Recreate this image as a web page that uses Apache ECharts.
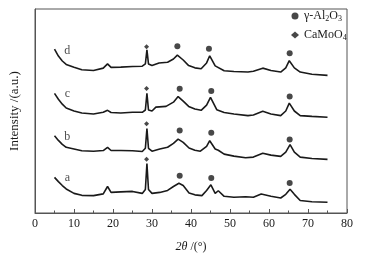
<!DOCTYPE html>
<html>
<head>
<meta charset="utf-8">
<script src="https://cdn.jsdelivr.net/npm/echarts@6/dist/echarts.min.js"></script>
<style>
  html, body { margin: 0; padding: 0; background: #fff; }
  #chart { width: 367px; height: 258px; }
</style>
</head>
<body>
<div id="chart"></div>
<script>
// XRD patterns, intensity in a.u. (curves already stacked)
const curveA = [[5,36.3],[6,32],[7,28],[8,24.5],[10,20],[12,18],[15,17.7],[17.5,19.5],[18.6,27],[19.5,21],[22,21.5],[25,22],[27.5,20],[28.3,24],[28.7,50.3],[29.1,24],[30,20],[32,21],[34,23],[35.5,27],[36.9,30.3],[38,28],[39.5,20.5],[41,18.5],[42.8,17.7],[44,23],[45.1,28.7],[46.2,20],[47,22.7],[48.5,17],[51,16],[54,16.5],[56,16],[58,19.3],[60.5,17],[63,15.3],[64.3,19],[65.4,24.3],[66.5,19],[68,12.7],[71,11.5],[75,11]];
const curveB = [[5,78.7],[6,74],[7,70],[8,67],[10,65.3],[12,63.5],[15,63],[17.5,63.7],[18.6,67],[19.5,63.7],[22,63.7],[25,63.5],[27.5,62.7],[28.3,66],[28.7,86],[29.1,66],[30,63],[32,65.3],[34,67],[35.5,71],[36.7,75.3],[38,72],[39.5,66.3],[41,64],[42.4,63],[44,68],[44.8,73.7],[46.2,65.3],[47,64],[48.5,60],[51,58],[54,56.3],[56,57],[58.4,61],[60.5,59],[63,57.7],[64.3,62],[65.4,69.7],[66.5,62],[68,57],[71,55.5],[75,54.7]];
const curveC = [[5,122],[6,116],[7,111],[8,107],[10,104],[12,102],[15,101],[17.5,102.7],[18.6,104.7],[19.5,102.5],[22,102],[25,102.7],[27.5,102.7],[28.3,105],[28.7,122],[29.1,105],[30,104],[31,108],[33.6,108.7],[35.5,113],[36.7,118.7],[38,114],[39.4,108.7],[41,106],[42.6,104.7],[44,110],[45,118],[46.6,105.3],[48.5,102.5],[51,101],[54.6,99.3],[56,100],[58.4,103.7],[60.5,101],[63,99.3],[64.3,104],[65.2,112],[66.5,104],[68,99.3],[71,98.5],[75,97.7]];
const curveD = [[5,167],[6,160],[7,155],[8,151.5],[10,148.5],[12,146],[15,145.3],[17.5,147.7],[18.6,152],[19.5,148.5],[22,148.7],[25,149.3],[27.5,149.7],[28.3,152],[28.7,166.3],[29.1,152],[30,150.3],[31.8,153],[34,153.7],[35.5,157],[36.5,161],[38,156],[39.4,150.3],[41,148],[42.6,147],[44,153],[44.8,160.3],[46.2,150],[48.5,145],[51,144.3],[54.6,143.7],[56,144.5],[58.4,147.7],[60.5,145.3],[63,143.7],[64.3,148],[65.2,155.3],[66.5,148],[68,143.7],[71,141.5],[75,140.3]];

// phase markers
const aluminaPeaks = [[36.5,170],[44.6,167.5],[65.3,163],[37.1,126.7],[45.2,124.3],[65.3,118.7],[37.1,84],[45.2,81.7],[65.3,75],[37.1,38],[45.2,35.7],[65.3,30.7]];
const camoo4Peaks = [[28.6,169.5],[28.6,127],[28.6,91],[28.6,54.7]];

// sample labels
const sampleNames = ['a', 'b', 'c', 'd'];
const sampleLabelPos = [[8.3,36],[8.3,78],[8.3,122],[8.3,165]];

const xTicks = [0, 10, 20, 30, 40, 50, 60, 70, 80];

const font = '"Liberation Serif", "Times New Roman", serif';
const ink = '#1a1a1a';
const chart = echarts.init(document.getElementById('chart'));

function lineSeries(name, data) {
  return {
    name: name,
    type: 'line',
    data: data,
    symbol: 'none',
    lineStyle: { color: ink, width: 1.6 },
    silent: true
  };
}

const option = {
  animation: false,
  textStyle: { fontFamily: font },
  grid: {
    left: 31, right: 20, top: 9, bottom: 41,
    show: true, borderColor: '#555', borderWidth: 1
  },
  legend: {
    orient: 'vertical',
    left: 286,
    top: 4,
    itemGap: 5,
    itemWidth: 8,
    itemHeight: 7,
    data: ['γ-Al2O3', 'CaMoO4'],
    textStyle: {
      fontFamily: font,
      fontSize: 12,
      color: ink,
      rich: {
        n: { fontSize: 12, fontFamily: font, color: ink, lineHeight: 14 },
        s: { fontSize: 8, fontFamily: font, color: ink, lineHeight: 14, verticalAlign: 'bottom', padding: [6, 0, 0, 0] }
      }
    },
    formatter: function (name) {
      if (name === 'γ-Al2O3') return '{n|γ-Al}{s|2}{n|O}{s|3}';
      return '{n|CaMoO}{s|4}';
    }
  },
  xAxis: {
    type: 'value',
    min: 0,
    max: 80,
    interval: 10,
    name: '{i|2θ} {n|/(°)}',
    nameLocation: 'middle',
    nameGap: 28,
    nameTextStyle: {
      rich: {
        i: { fontFamily: font, fontSize: 12, fontStyle: 'italic', color: ink },
        n: { fontFamily: font, fontSize: 12, color: ink }
      }
    },
    axisLine: { show: true, lineStyle: { color: '#555' } },
    axisTick: { show: true, inside: true, length: 4, lineStyle: { color: '#555' } },
    minorTick: { show: true, splitNumber: 2, length: 2.5, lineStyle: { color: '#555' } },
    axisLabel: {
      fontFamily: font, fontSize: 12, color: ink, margin: 5,
      formatter: function (v) { return xTicks.indexOf(v) >= 0 ? String(v) : ''; }
    },
    splitLine: { show: false }
  },
  yAxis: {
    type: 'value',
    min: 0,
    max: 208,
    name: 'Intensity /(a.u.)',
    nameLocation: 'middle',
    nameGap: 14,
    nameTextStyle: { fontFamily: font, fontSize: 13, color: ink },
    axisLine: { show: true, lineStyle: { color: '#555' } },
    axisTick: { show: false },
    axisLabel: { show: false },
    splitLine: { show: false }
  },
  series: [
    lineSeries('a', curveA),
    lineSeries('b', curveB),
    lineSeries('c', curveC),
    lineSeries('d', curveD),
    {
      name: 'γ-Al2O3',
      type: 'scatter',
      data: aluminaPeaks,
      symbol: 'circle',
      symbolSize: 6,
      itemStyle: { color: ink },
      silent: true
    },
    {
      name: 'CaMoO4',
      type: 'scatter',
      data: camoo4Peaks,
      symbol: 'diamond',
      symbolSize: 5,
      itemStyle: { color: ink },
      silent: true
    },
    {
      name: 'labels',
      type: 'scatter',
      symbolSize: 0,
      data: sampleLabelPos.map(function (p, i) { return { value: p, name: sampleNames[i] }; }),
      label: {
        show: true,
        position: 'inside',
        formatter: '{b}',
        fontFamily: font,
        fontSize: 12,
        color: ink
      },
      silent: true
    }
  ]
};

chart.setOption(option);
</script>
</body>
</html>
